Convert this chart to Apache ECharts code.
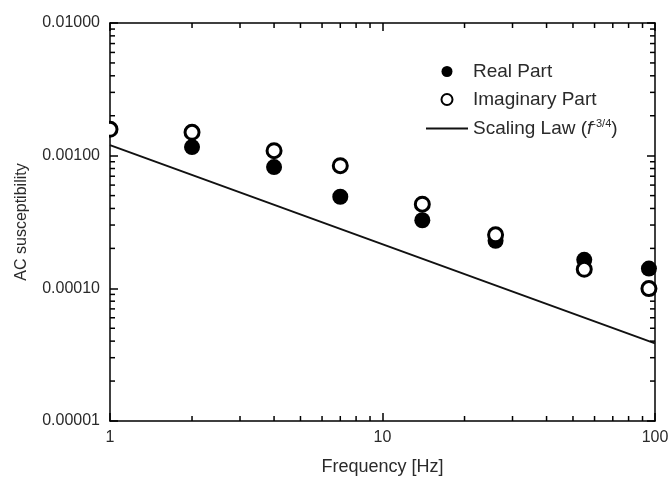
<!DOCTYPE html>
<html>
<head>
<meta charset="utf-8">
<script src="https://cdn.jsdelivr.net/npm/echarts@6/dist/echarts.min.js"></script>
<style>html,body{margin:0;padding:0;background:#fff;}#c{width:672px;height:481px;}</style>
</head>
<body>
<div id="c"></div>
<script>
// ---- data ----
const freqReal = [2, 4, 7, 14, 26, 55, 95];
const realPart = [0.00116, 0.00082, 0.00049, 0.000326, 0.000228, 0.000164, 0.000141];
const freqImag = [1, 2, 4, 7, 14, 26, 55, 95];
const imagPart = [0.00158, 0.00150, 0.00109, 0.00084, 0.000431, 0.000253, 0.000139, 0.0000995];
const lawFreq = [1, 100];
const lawValue = [0.00120, 0.0000385];
const xTickLabels = ['1', '10', '100'];
const yTickLabels = ['0.00001', '0.00010', '0.00100', '0.01000'];
const xMinorTicks = [2, 3, 4, 5, 6, 7, 8, 9, 20, 30, 40, 50, 60, 70, 80, 90];
const yMinorTicks = [2e-5, 3e-5, 4e-5, 5e-5, 6e-5, 7e-5, 8e-5, 9e-5,
                     2e-4, 3e-4, 4e-4, 5e-4, 6e-4, 7e-4, 8e-4, 9e-4,
                     2e-3, 3e-3, 4e-3, 5e-3, 6e-3, 7e-3, 8e-3, 9e-3];

const chart = echarts.init(document.getElementById('c'), null, {renderer: 'canvas'});
const FONT = '"Liberation Sans", Arial, sans-serif';
const TXT = '#2a2a2a';
const minorLen = 5;

function minorX(params, api) {
  const cs = params.coordSys;
  const x = api.coord([api.value(0), 1e-3])[0];
  const b = cs.y + cs.height, t = cs.y;
  return {type: 'group', children: [
    {type: 'line', shape: {x1: x, y1: b, x2: x, y2: b - minorLen}, style: {stroke: '#000', lineWidth: 1.5}},
    {type: 'line', shape: {x1: x, y1: t, x2: x, y2: t + minorLen}, style: {stroke: '#000', lineWidth: 1.5}}
  ]};
}
function minorY(params, api) {
  const cs = params.coordSys;
  const y = api.coord([10, api.value(1)])[1];
  const l = cs.x, r = cs.x + cs.width;
  return {type: 'group', children: [
    {type: 'line', shape: {x1: l, y1: y, x2: l + minorLen, y2: y}, style: {stroke: '#000', lineWidth: 1.5}},
    {type: 'line', shape: {x1: r, y1: y, x2: r - minorLen, y2: y}, style: {stroke: '#000', lineWidth: 1.5}}
  ]};
}

const axisLine = {show: true, onZero: false, lineStyle: {color: '#000', width: 1.5}};
const axisTick = {show: true, inside: true, length: 8, lineStyle: {color: '#000', width: 1.5}};

const option = {
  backgroundColor: '#fff',
  animation: false,
  grid: {left: 110, right: 17, top: 23, bottom: 56, containLabel: false},
  legend: {
    orient: 'vertical',
    left: 420, top: 57,
    itemWidth: 42, itemHeight: 11, itemGap: 9,
    textStyle: {fontFamily: FONT, fontSize: 19, color: TXT,
      rich: {
        i: {fontFamily: FONT, fontSize: 19, fontStyle: 'italic', color: TXT},
        sup: {fontFamily: FONT, fontSize: 11, color: TXT, verticalAlign: 'bottom', padding: [0, 0, 10, 0]}
      }},
    formatter: function (name) {
      return name === 'Scaling Law' ? 'Scaling Law ({i|f}{sup|-3/4})' : name;
    },
    data: [
      {name: 'Real Part', icon: 'circle'},
      {name: 'Imaginary Part', icon: 'circle', itemStyle: {color: '#fff', borderColor: '#000', borderWidth: 2}},
      {name: 'Scaling Law', itemStyle: {opacity: 0}, lineStyle: {color: '#111', width: 2, opacity: 1}}
    ]
  },
  xAxis: [{
    type: 'log', logBase: 10, min: 1, max: 100,
    name: 'Frequency [Hz]', nameLocation: 'middle', nameGap: 37,
    nameTextStyle: {fontFamily: FONT, fontSize: 18, color: TXT},
    axisLine: axisLine, axisTick: axisTick, splitLine: {show: false}, minorTick: {show: false},
    axisLabel: {fontFamily: FONT, fontSize: 16, color: TXT, margin: 9,
      formatter: function (v, i) { return xTickLabels[i] !== undefined ? xTickLabels[i] : ''; }}
  }, {
    type: 'log', logBase: 10, min: 1, max: 100, position: 'top',
    axisLine: axisLine, axisTick: axisTick, splitLine: {show: false}, axisLabel: {show: false}
  }],
  yAxis: [{
    type: 'log', logBase: 10, min: 1e-5, max: 1e-2,
    name: 'AC susceptibility', nameLocation: 'middle', nameGap: 80, nameRotate: 90,
    nameTextStyle: {fontFamily: FONT, fontSize: 16, color: TXT},
    axisLine: axisLine, axisTick: axisTick, splitLine: {show: false},
    axisLabel: {fontFamily: FONT, fontSize: 16, color: TXT, margin: 10,
      formatter: function (v, i) { return yTickLabels[i] !== undefined ? yTickLabels[i] : ''; }}
  }, {
    type: 'log', logBase: 10, min: 1e-5, max: 1e-2, position: 'right',
    axisLine: axisLine, axisTick: axisTick, splitLine: {show: false}, axisLabel: {show: false}
  }],
  series: [
    {
      name: 'Scaling Law', type: 'line', symbol: 'none', showSymbol: false, silent: true,
      data: lawFreq.map((f, i) => [f, lawValue[i]]),
      lineStyle: {color: '#111', width: 2}, itemStyle: {color: '#111'}, z: 2
    },
    {
      name: 'Real Part', type: 'scatter', symbol: 'circle', symbolSize: 16,
      data: freqReal.map((f, i) => [f, realPart[i]]),
      itemStyle: {color: '#000', opacity: 1}, z: 3
    },
    {
      name: 'Imaginary Part', type: 'scatter', symbol: 'circle', symbolSize: 14,
      data: freqImag.map((f, i) => [f, imagPart[i]]),
      itemStyle: {color: '#fff', borderColor: '#000', borderWidth: 3, opacity: 1}, z: 4
    },
    {
      type: 'custom', silent: true, renderItem: minorX, z: 5,
      data: xMinorTicks.map(v => [v, 1e-3])
    },
    {
      type: 'custom', silent: true, renderItem: minorY, z: 5,
      data: yMinorTicks.map(v => [10, v])
    }
  ],
  graphic: [{
    type: 'rect', z: 100, silent: true,
    shape: {x: 92, y: 118, width: 17, height: 26},
    style: {fill: '#fff'}
  }]
};
chart.setOption(option);
</script>
</body>
</html>
